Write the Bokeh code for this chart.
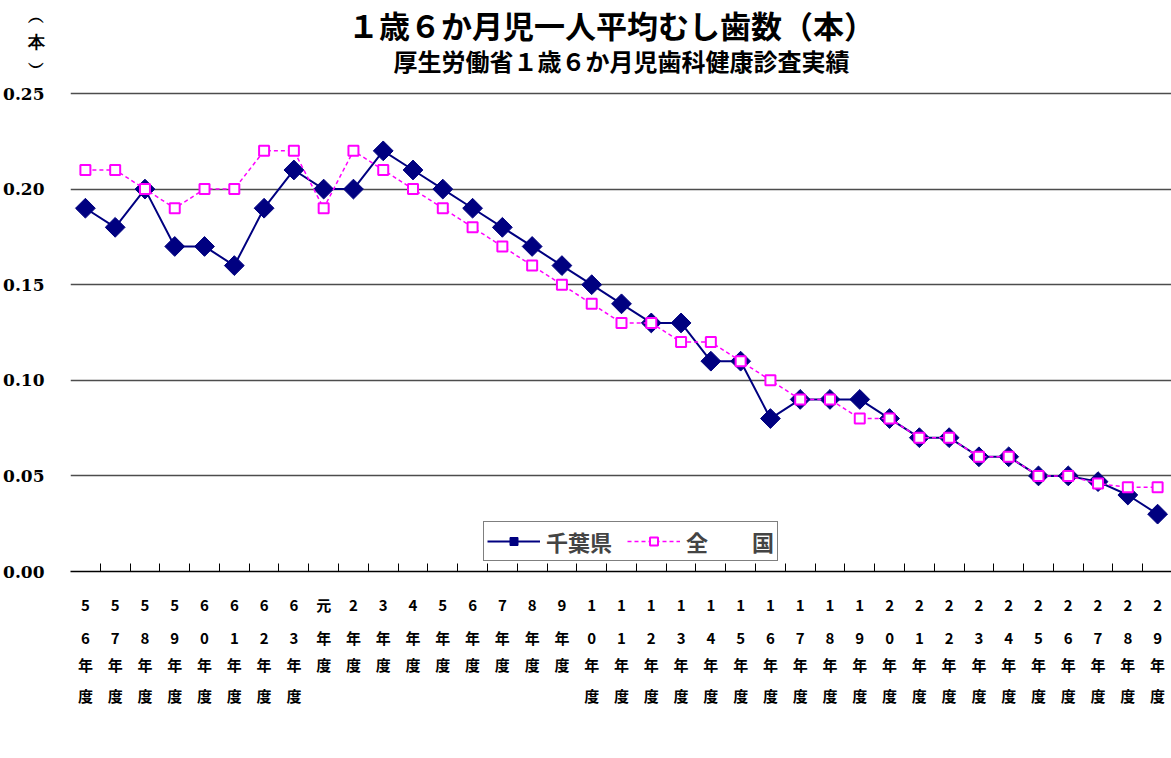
from bokeh.plotting import figure
from bokeh.models import Range1d, FixedTicker, Label, Legend, LegendItem, LinearAxis
from bokeh.embed import file_html
from bokeh.resources import INLINE
import numpy as np

# ---- data ----
years = ["56", "57", "58", "59", "60", "61", "62", "63", "元",
         "2", "3", "4", "5", "6", "7", "8", "9", "10", "11", "12", "13",
         "14", "15", "16", "17", "18", "19", "20", "21", "22", "23", "24",
         "25", "26", "27", "28", "29"]
chiba = [0.19, 0.18, 0.20, 0.17, 0.17, 0.16, 0.19, 0.21, 0.20,
         0.20, 0.22, 0.21, 0.20, 0.19, 0.18, 0.17, 0.16, 0.15, 0.14, 0.13, 0.13,
         0.11, 0.11, 0.08, 0.09, 0.09, 0.09, 0.08, 0.07, 0.07, 0.06, 0.06,
         0.05, 0.05, 0.047, 0.04, 0.03]
national = [0.21, 0.21, 0.20, 0.19, 0.20, 0.20, 0.22, 0.22, 0.19,
            0.22, 0.21, 0.20, 0.19, 0.18, 0.17, 0.16, 0.15, 0.14, 0.13, 0.13, 0.12,
            0.12, 0.11, 0.10, 0.09, 0.09, 0.08, 0.08, 0.07, 0.07, 0.06, 0.06,
            0.05, 0.05, 0.046, 0.044, 0.044]
y_ticks = [0.00, 0.05, 0.10, 0.15, 0.20, 0.25]
y_max = 0.25
unit_pos = 0.2767          # where the unit label "(本)" sits on the value axis
title_text = "１歳６か月児一人平均むし歯数（本）"
subtitle_text = "厚生労働省１歳６か月児歯科健康診査実績"
unit_text = "︵\n本\n︶"
series_names = ["千葉県", "全　　国"]

JP = "Noto Sans CJK JP"
xs = list(range(len(years)))
# category labels are written vertically: one character per row
label_chars = [list(y) + ["年", "度"] for y in years]
rows = [{i: (c[k] if k < len(c) else "") for i, c in enumerate(label_chars)} for k in range(4)]

FRAME_H = 571
# the value range is extended above 0.25 so the header texts sit inside the frame
p = figure(frame_width=1102, frame_height=FRAME_H, output_backend="svg", toolbar_location=None,
           x_range=Range1d(-0.5, len(years) - 0.5),
           y_range=Range1d(0, y_max * FRAME_H / 478),
           min_border_left=69, min_border_right=0, min_border_top=0, min_border_bottom=187)
p.background_fill_color = "white"
p.border_fill_color = "white"
p.outline_line_color = None


def style_row(ax, k, standoff):
    ax.major_label_overrides = rows[k]
    ax.major_label_text_font = JP
    ax.major_label_text_font_style = "bold"
    ax.major_label_text_font_size = "15px"
    ax.major_label_standoff = standoff
    ax.major_label_text_color = "black"
    ax.major_tick_in = 0
    ax.major_tick_out = 0


xa = p.xaxis[0]
xa.ticker = FixedTicker(ticks=xs, minor_ticks=[i + 0.5 for i in xs[:-1]])
style_row(xa, 0, 22)
xa.minor_tick_in = 8
xa.minor_tick_out = 0
xa.minor_tick_line_color = "black"
xa.axis_line_color = "black"
xa.axis_line_width = 1.5

for k, so in zip([1, 2, 3], [9, 3, 7]):
    ax = LinearAxis(ticker=FixedTicker(ticks=xs))
    style_row(ax, k, so)
    ax.axis_line_color = None
    ax.minor_tick_line_color = None
    p.add_layout(ax, "below")

ya = p.yaxis[0]
ya.ticker = FixedTicker(ticks=y_ticks + [unit_pos])
overrides = {t: f"{t:.2f}" for t in y_ticks}
overrides[unit_pos] = unit_text
ya.major_label_overrides = overrides
ya.major_tick_in = 0
ya.major_tick_out = 0
ya.minor_tick_line_color = None
ya.axis_line_color = None
ya.major_label_text_font = "DejaVu Serif"
ya.major_label_text_font_style = "bold"
ya.major_label_text_font_size = "17px"
ya.major_label_text_line_height = 1.25
ya.major_label_standoff = 26
ya.major_label_text_color = "black"

# horizontal grid lines at the value ticks
p.ygrid.grid_line_color = "#4d4d4d"
p.ygrid.grid_line_width = 1.3
p.ygrid.ticker = FixedTicker(ticks=y_ticks)
# left border of the plot area (grey), only over the value range
p.xgrid.ticker = FixedTicker(ticks=[-0.5])
p.xgrid.grid_line_color = "#808080"
p.xgrid.grid_line_width = 3
p.xgrid.bounds = (0, y_max)

l1 = p.line(xs, chiba, line_color="#000080", line_width=2)
s1 = p.scatter(xs, chiba, marker="square", angle=np.pi / 4, size=14,
               fill_color="#000080", line_color="#000080")
l2 = p.line(xs, national, line_color="#FF00FF", line_width=1.5, line_dash="4 3")
s2 = p.scatter(xs, national, marker="square", size=10, fill_color="white",
               line_color="#FF00FF", line_width=2)

legend = Legend(items=[LegendItem(label=series_names[0], renderers=[l1, s1]),
                       LegendItem(label=series_names[1], renderers=[l2, s2])],
                orientation="horizontal", location=(413, 10),
                border_line_color="black", border_line_width=1,
                background_fill_color="white", background_fill_alpha=1,
                label_text_font=JP, label_text_font_style="bold",
                label_text_font_size="22px", glyph_width=53, glyph_height=20,
                label_standoff=6, spacing=15, padding=3, margin=0)
p.add_layout(legend)

# header texts (inside the frame, above the 0.25 line)
p.add_layout(Label(x=541, y=FRAME_H - 1, x_units="screen", y_units="screen", text=title_text,
                   text_font=JP, text_font_style="bold", text_font_size="31px",
                   text_align="center", text_baseline="top", text_color="black"))
p.add_layout(Label(x=551, y=FRAME_H - 60, x_units="screen", y_units="screen", text=subtitle_text,
                   text_font=JP, text_font_style="bold", text_font_size="24px",
                   text_align="center", text_baseline="middle", text_color="black"))

open("out.html", "w").write(file_html(p, INLINE))
